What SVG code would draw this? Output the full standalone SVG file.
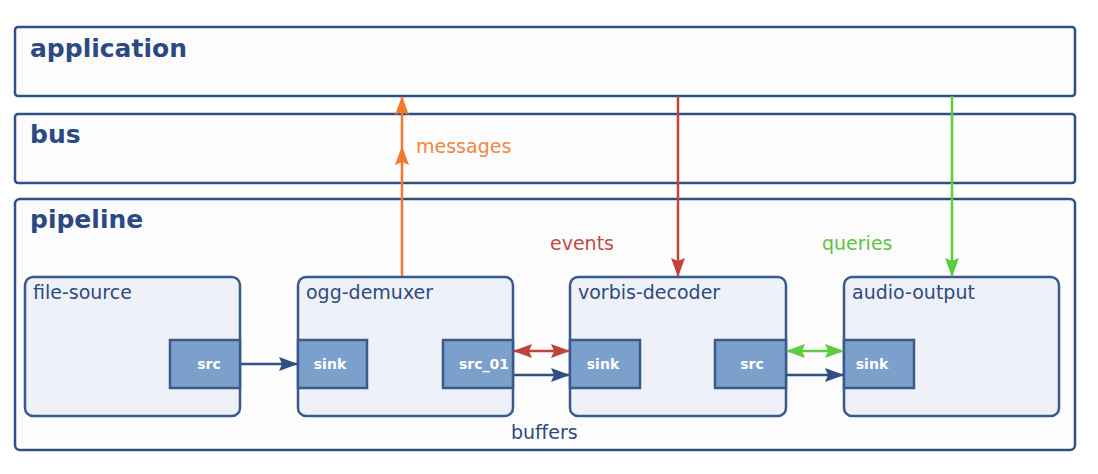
<svg xmlns="http://www.w3.org/2000/svg" width="1098" height="474" viewBox="0 0 1098 474">
<defs>
<style>
.outer{fill:#fcfcfd;stroke:#2f4f87;stroke-width:2.5}
.elem{fill:#eef1f7;stroke:#3a5a8e;stroke-width:2.5}
.pad{fill:#7ca0cc;stroke:#3a5a8e;stroke-width:2.5}
.title{font-family:"DejaVu Sans",sans-serif;font-weight:bold;font-size:25px;fill:#2c4a82}
.lbl{font-family:"DejaVu Sans",sans-serif;font-size:19px;fill:#2e4a80}
.padt{font-family:"DejaVu Sans",sans-serif;font-weight:bold;font-size:14px;fill:#ffffff;text-anchor:middle}
.conn{fill:none;stroke-width:2.5}
</style>
<marker id="ab" viewBox="0 0 19 14" refX="18" refY="7" markerWidth="19" markerHeight="14" markerUnits="userSpaceOnUse" orient="auto-start-reverse"><path d="M0,0 L19,7 L0,14 L3,7 z" fill="#2f4f87"/></marker>
<marker id="ar" viewBox="0 0 19 14" refX="18" refY="7" markerWidth="19" markerHeight="14" markerUnits="userSpaceOnUse" orient="auto-start-reverse"><path d="M0,0 L19,7 L0,14 L3,7 z" fill="#c0443c"/></marker>
<marker id="ag" viewBox="0 0 19 14" refX="18" refY="7" markerWidth="19" markerHeight="14" markerUnits="userSpaceOnUse" orient="auto-start-reverse"><path d="M0,0 L19,7 L0,14 L3,7 z" fill="#5ccc3c"/></marker>
<marker id="ao" viewBox="0 0 19 14" refX="18" refY="7" markerWidth="19" markerHeight="14" markerUnits="userSpaceOnUse" orient="auto"><path d="M0,0 L19,7 L0,14 L3,7 z" fill="#f07a2e"/></marker>
</defs>
<rect width="1098" height="474" fill="#ffffff"/>
<g id="application"><rect class="outer" x="15" y="27" width="1060" height="69" rx="3"/><text class="title" x="30" y="57">application</text></g>
<g id="bus"><rect class="outer" x="15" y="114" width="1060" height="69" rx="3"/><text class="title" x="30" y="143">bus</text></g>
<g id="pipeline"><rect class="outer" x="15" y="199" width="1060" height="251" rx="5"/><text class="title" x="30" y="228">pipeline</text></g>
<g id="file-source"><rect class="elem" x="25" y="277" width="215" height="139" rx="8"/><text class="lbl" x="33" y="299">file-source</text>
<g id="file-source-src"><rect class="pad" x="170" y="340" width="70" height="48"/><text class="padt" x="209" y="369">src</text></g></g>
<g id="ogg-demuxer"><rect class="elem" x="298" y="277" width="215" height="139" rx="8"/><text class="lbl" x="306" y="299">ogg-demuxer</text>
<g id="ogg-demuxer-sink"><rect class="pad" x="298" y="340" width="69" height="48"/><text class="padt" x="330" y="369">sink</text></g>
<g id="ogg-demuxer-src_01"><rect class="pad" x="443" y="340" width="70" height="48"/><text class="padt" x="484" y="369">src_01</text></g></g>
<g id="vorbis-decoder"><rect class="elem" x="570" y="277" width="216" height="139" rx="8"/><text class="lbl" x="578" y="299">vorbis-decoder</text>
<g id="vorbis-decoder-sink"><rect class="pad" x="570" y="340" width="70" height="48"/><text class="padt" x="603" y="369">sink</text></g>
<g id="vorbis-decoder-src"><rect class="pad" x="715" y="340" width="71" height="48"/><text class="padt" x="752" y="369">src</text></g></g>
<g id="audio-output"><rect class="elem" x="844" y="277" width="215" height="139" rx="8"/><text class="lbl" x="852" y="299">audio-output</text>
<g id="audio-output-sink"><rect class="pad" x="844" y="340" width="70" height="48"/><text class="padt" x="872" y="369">sink</text></g></g>
<g id="connectors">
<line class="conn" stroke="#2f4f87" x1="241" y1="364" x2="297" y2="364" marker-end="url(#ab)"/>
<line class="conn" stroke="#2f4f87" x1="514" y1="375" x2="569" y2="375" marker-end="url(#ab)"/>
<line class="conn" stroke="#2f4f87" x1="787" y1="375" x2="843" y2="375" marker-end="url(#ab)"/>
<line class="conn" stroke="#c0443c" x1="514" y1="351" x2="569" y2="351" marker-start="url(#ar)" marker-end="url(#ar)"/>
<line class="conn" stroke="#5ccc3c" x1="787" y1="351" x2="843" y2="351" marker-start="url(#ag)" marker-end="url(#ag)"/>
<line class="conn" stroke="#f07a2e" x1="402" y1="276" x2="402" y2="147" marker-end="url(#ao)"/>
<line class="conn" stroke="#f07a2e" x1="402" y1="147" x2="402" y2="97" marker-end="url(#ao)"/>
<line class="conn" stroke="#c0443c" x1="678" y1="96" x2="678" y2="276" marker-end="url(#ar)"/>
<line class="conn" stroke="#5ccc3c" x1="952" y1="96" x2="952" y2="276" marker-end="url(#ag)"/>
<text class="lbl" x="416" y="153" style="fill:#f08640">messages</text>
<text class="lbl" x="550" y="250" style="fill:#c24a42">events</text>
<text class="lbl" x="822" y="250" style="fill:#5cc440">queries</text>
<text class="lbl" x="511" y="439">buffers</text>
</g>
</svg>
